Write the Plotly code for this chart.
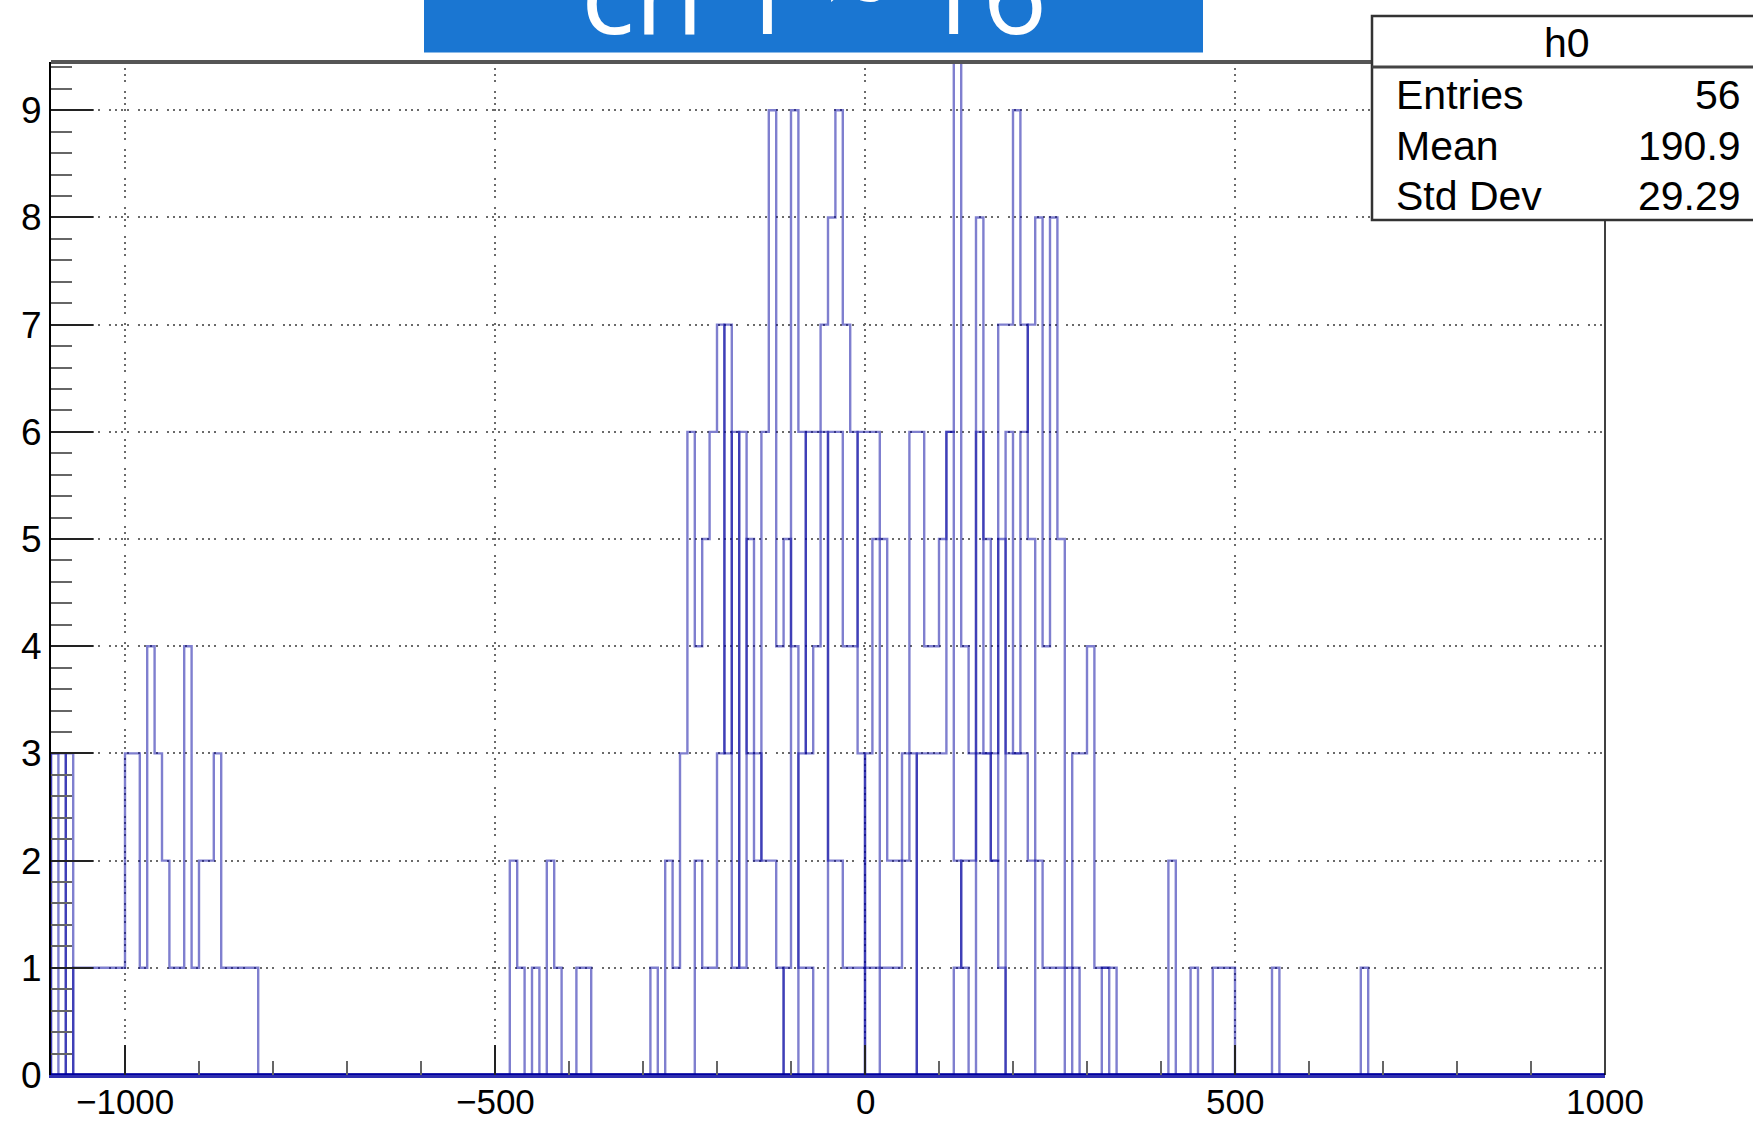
import numpy as np
import plotly.graph_objects as go

# ---------------- data ----------------
x_lo, x_hi, bin_w = -1100, 1000, 10
y_top = 9.45
x_tick_vals = [-1000, -500, 0, 500, 1000]
title_text = "ch 1 ~ 16"
stats_name = "h0"
stats_labels = ["Entries", "Mean", "Std Dev"]
stats_values = ["56", "190.9", "29.29"]

# each channel: left edge of its first listed bin and the counts of consecutive 10-wide bins
ch_left_start = -1100
ch_left_counts = [3, 3, 0, 1, 1, 1, 1, 1, 1, 1, 3, 3, 1, 4, 3, 2, 1, 1, 4, 1, 2, 2, 3, 1, 1, 1, 1, 1]
ch_edge_start = -1100
ch_edge_counts = [3, 0, 3]
ch_wide_start = -480
ch_wide_counts = [2, 1, 0, 1, 0, 2, 1, 0, 0, 1, 1]
ch_tail_start = 410
ch_tail_counts = [2, 0, 0, 1, 0, 0, 1, 1, 1, 0, 0, 0, 0, 0, 1, 0, 0, 0, 0, 0, 0, 0, 0, 0, 0, 0, 1]
ch01_start = -290
ch01_counts = [1, 0, 2, 1, 3, 6, 4, 5, 6, 7, 3, 6, 1, 5, 3, 2, 2, 1]
ch02_start = -230
ch02_counts = [2, 1, 1, 3, 7, 1, 6, 3, 2, 6, 9, 4, 5, 4, 1, 1]
ch03_start = -110
ch03_counts = [1, 9, 6, 3, 4, 6, 2, 2, 1, 1, 1]
ch04_start = -90
ch04_counts = [3, 6, 6, 7, 8, 9, 7, 6, 3, 1, 1]
ch05_start = -50
ch05_counts = [6, 6, 4, 4, 6, 6, 6, 5, 2, 2, 3, 3]
ch06_start = 0
ch06_counts = [3, 5, 1, 1, 1, 2, 6, 6, 4, 4, 5, 6, 2, 1]
ch07_start = 70
ch07_counts = [3, 3, 3, 3, 6, 11, 4, 3, 6, 3, 2, 1]
ch08_start = 120
ch08_counts = [1, 2, 2, 8, 5, 3, 5, 3, 3, 3, 2]
ch09_start = 150
ch09_counts = [3, 3, 2, 7, 7, 9, 7, 5, 2, 1, 1, 1, 0, 1, 0, 0, 0, 1, 1]
ch10_start = 190
ch10_counts = [6, 3, 6, 7, 8, 4, 8, 5, 1, 3, 3, 4, 1, 1]

channels = [
    (ch_left_start, ch_left_counts), (ch_edge_start, ch_edge_counts),
    (ch_wide_start, ch_wide_counts), (ch_tail_start, ch_tail_counts),
    (ch01_start, ch01_counts), (ch02_start, ch02_counts), (ch03_start, ch03_counts),
    (ch04_start, ch04_counts), (ch05_start, ch05_counts), (ch06_start, ch06_counts),
    (ch07_start, ch07_counts), (ch08_start, ch08_counts), (ch09_start, ch09_counts),
    (ch10_start, ch10_counts),
]

# ---------------- geometry ----------------
W, H = 1753, 1123
L, R, T, B = 51, 148, 62, 48
PW, PH = W - L - R, H - T - B


def px(xp):
    return (xp - L) / PW


def py(yp):
    return (H - B - yp) / PH


nbins = int(round((x_hi - x_lo) / bin_w))
edges = x_lo + bin_w * np.arange(nbins + 1)

fig = go.Figure()
line_col = "rgba(0,0,160,0.5)"
for start, counts in channels:
    full = np.zeros(nbins)
    i0 = int(round((start - x_lo) / bin_w))
    full[i0:i0 + len(counts)] = counts
    xs = np.concatenate([[x_lo], edges[:-1], [x_hi]])
    ys = np.concatenate([[0], full, [0]])
    fig.add_trace(go.Scatter(x=xs, y=ys, mode="lines", line=dict(shape="hv", color=line_col, width=2.4),
                             hoverinfo="skip", showlegend=False))

griddash = "2px,4px,2px,4px,2px,4px,2px,9px"
xtickfont = dict(family="Liberation Sans, Arial, sans-serif", size=35, color="black")
ytickfont = dict(family="Liberation Sans, Arial, sans-serif", size=37, color="black")

fig.update_xaxes(range=[x_lo, x_hi], showgrid=True, gridcolor="#6a6a6a", gridwidth=1.6, griddash=griddash,
                 zeroline=False, tickvals=x_tick_vals, ticks="inside", ticklen=30, tickwidth=2, tickcolor="#222",
                 showticklabels=False,
                 showline=True, linecolor="#2f2fb0", linewidth=3,
                 minor=dict(dtick=100, ticks="inside", ticklen=14, tickwidth=2, tickcolor="#666", showgrid=False))
fig.update_yaxes(range=[0, y_top], showgrid=True, gridcolor="#6a6a6a", gridwidth=1.6, griddash=griddash,
                 zeroline=False, tick0=0, dtick=1, ticks="inside", ticklen=42, tickwidth=2.2, tickcolor="#222",
                 tickfont=ytickfont, ticklabelstandoff=0,
                 showline=True, linecolor="black", linewidth=2.2,
                 minor=dict(dtick=0.2, ticks="inside", ticklen=21, tickwidth=2, tickcolor="#666", showgrid=False))

shapes = [
    # top frame line and right frame line
    dict(type="line", xref="paper", yref="paper", x0=0, x1=1, y0=1, y1=1, line=dict(color="#555", width=4), layer="above"),
    dict(type="line", xref="paper", yref="paper", x0=1, x1=1, y0=0, y1=1, line=dict(color="black", width=1.5), layer="above"),
    # stats box
    dict(type="rect", xref="paper", yref="paper", x0=px(1372), x1=px(1760), y0=py(220), y1=py(16),
         fillcolor="white", line=dict(color="#333", width=2.5), layer="above"),
    dict(type="line", xref="paper", yref="paper", x0=px(1372), x1=px(1760), y0=py(67), y1=py(67),
         line=dict(color="#444", width=3), layer="above"),
    # title box
    dict(type="rect", xref="paper", yref="paper", x0=px(424), x1=px(1203), y0=py(52.5), y1=py(-5),
         fillcolor="#1a76d2", line=dict(width=0), layer="above"),
]

# x tick labels, placed at the axis' tick values
annotations = []
for v in x_tick_vals:
    lab = ("\u2212" + str(abs(v))) if v < 0 else str(v)
    annotations.append(dict(text=lab, xref="x", yref="paper", x=v, y=py(1101), xanchor="center",
                            yanchor="middle", showarrow=False, font=xtickfont))

statfont = dict(family="Liberation Sans, Arial, sans-serif", size=41, color="black")
annotations.append(dict(text=stats_name, xref="paper", yref="paper", x=px(1567), y=py(43), xanchor="center",
                        yanchor="middle", showarrow=False, font=statfont))
row_y = [95, 146, 196]
for lab, val, yy in zip(stats_labels, stats_values, row_y):
    annotations.append(dict(text=lab, xref="paper", yref="paper", x=px(1394), y=py(yy), xanchor="left",
                            yanchor="middle", showarrow=False, font=statfont))
    annotations.append(dict(text=val, xref="paper", yref="paper", x=px(1743), y=py(yy), xanchor="right",
                            yanchor="middle", showarrow=False, font=statfont))
annotations.append(dict(text=title_text, xref="paper", yref="paper", x=px(813.5), y=py(69), xanchor="center",
                        yanchor="bottom", showarrow=False,
                        font=dict(family="Open Sans, sans-serif", size=112, color="white", weight=400)))

fig.update_layout(width=W, height=H, margin=dict(l=L, r=R, t=T, b=B, autoexpand=False),
                  paper_bgcolor="white", plot_bgcolor="white", shapes=shapes, annotations=annotations,
                  showlegend=False)

fig.write_html("out.html", config={"displayModeBar": False},
               post_script="document.body.style.margin='0';document.body.style.overflow='hidden';")
